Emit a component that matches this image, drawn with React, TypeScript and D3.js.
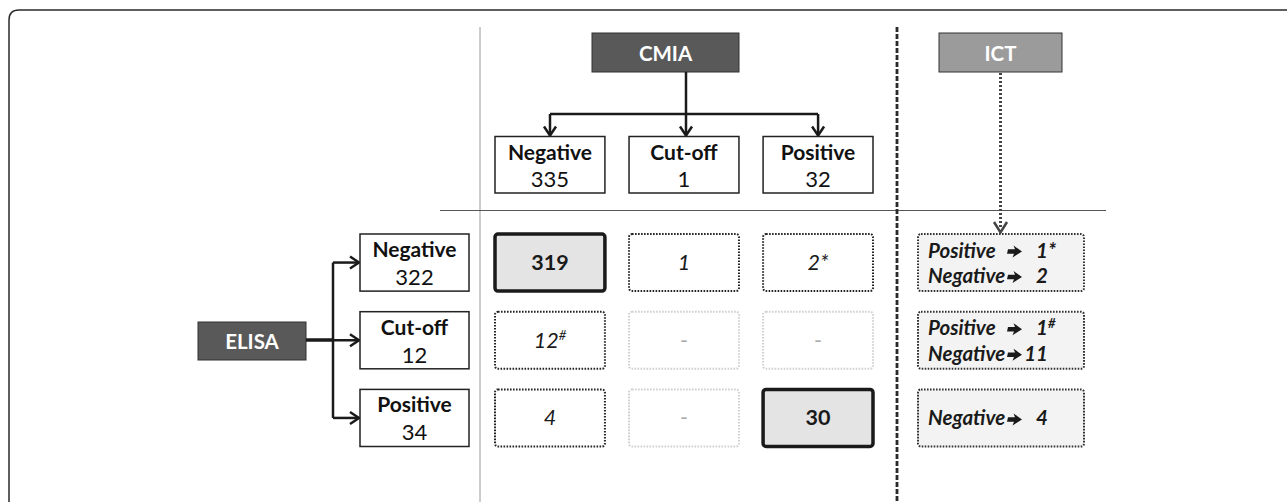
import React from 'react'
import { scaleBand } from 'd3'

// Data
const categories = ['Negative', 'Cut-off', 'Positive']
const elisaTotals = [322, 12, 34]
const cmiaTotals = [335, 1, 32]
// rows = ELISA result, cols = CMIA result
const crossCounts = [
    [319, 1, 2],
    [12, null, null],
    [4, null, 30],
]
const crossMarks = [
    ['', '', '*'],
    ['#', '', ''],
    ['', '', ''],
]
const ictLabels = [['Positive', 'Negative'], ['Positive', 'Negative'], ['Negative']]
const ictValues = [[1, 2], [1, 11], [4]]
const ictMarks = [['*', ''], ['#', ''], ['']]

const W = 1287
const H = 502
const FONT = 'Lato, "Open Sans", sans-serif'

const colX = scaleBand<string>().domain(categories).range([495, 873]).paddingInner(0.18)
const rowY = scaleBand<string>().domain(categories).range([234, 446.5]).paddingInner(0.265)

const elisaX = 360
const elisaW = 109
const cmiaY = 136.5
const cmiaH = 56.5
const ictX = 918
const ictW = 166

const Arrow = ({ x, y }: { x: number, y: number }) => (
    // heavy arrow glyph, left edge at x, middle at y
    <path
        d={`M${x},${y - 2.3} L${x + 7},${y - 2.3} L${x + 5.5},${y - 6} L${x + 14},${y} L${x + 4.5},${y + 6} L${x + 6},${y + 2.3} L${x - 1},${y + 2.3} Z`}
        fill="#1a1a1a"
    />
)

const App = () => {
    const bw = colX.bandwidth()
    const bh = rowY.bandwidth()
    const cmiaCx = 686
    return (
        <svg width={W} height={H} style={{ position: 'absolute', left: 0, top: 0, background: '#fff' }} fontFamily={FONT}>
            {/* frame */}
            <path d={`M9,${H + 5} L9,20 Q9,10 19,10 L${W + 5},10`} fill="none" stroke="#2a2a2a" strokeWidth={1.5} />

            {/* separators */}
            <line x1={480} x2={480} y1={27} y2={H} stroke="#9a9a9a" strokeWidth={1} />
            <line x1={440} x2={1106} y1={210.5} y2={210.5} stroke="#555" strokeWidth={1.2} />
            <line x1={897} x2={897} y1={27} y2={H} stroke="#2a2a2a" strokeWidth={2.8} strokeDasharray="5 2" />

            {/* ELISA */}
            <rect x={198} y={322} width={108} height={38} fill="#595959" stroke="#333" strokeWidth={1} />
            <text x={252} y={348.5} textAnchor="middle" fill="#fff" fontWeight="bold" fontSize={20.5}>ELISA</text>
            <line x1={306} x2={334} y1={340} y2={340} stroke="#1a1a1a" strokeWidth={3.5} />
            <line x1={333} x2={333} y1={rowY(categories[0])! + bh / 2} y2={rowY(categories[2])! + bh / 2} stroke="#1a1a1a" strokeWidth={2.5} />
            {categories.map((c) => {
                const cy = rowY(c)! + bh / 2
                return (
                    <g key={'ea' + c}>
                        <line x1={333} x2={elisaX - 1} y1={cy} y2={cy} stroke="#1a1a1a" strokeWidth={2.5} />
                        <path d={`M${elisaX - 10},${cy - 6} L${elisaX - 1},${cy} L${elisaX - 10},${cy + 6}`} fill="none" stroke="#1a1a1a" strokeWidth={2.5} />
                    </g>
                )
            })}
            {categories.map((c, i) => (
                <g key={'eb' + c}>
                    <rect x={elisaX} y={rowY(c)} width={elisaW} height={bh} fill="#fff" stroke="#222" strokeWidth={1.5} />
                    <text x={elisaX + elisaW / 2} y={rowY(c)! + 23} textAnchor="middle" fontWeight="bold" fontSize={21} fill="#111">{c}</text>
                    <text x={elisaX + elisaW / 2} y={rowY(c)! + 51} textAnchor="middle" fontSize={22} fill="#111">{elisaTotals[i]}</text>
                </g>
            ))}

            {/* CMIA */}
            <rect x={592} y={33} width={147} height={39} fill="#595959" stroke="#333" strokeWidth={1} />
            <text x={665.5} y={60.5} textAnchor="middle" fill="#fff" fontWeight="bold" fontSize={20.5}>CMIA</text>
            <line x1={cmiaCx} x2={cmiaCx} y1={72} y2={114} stroke="#1a1a1a" strokeWidth={2.5} />
            <line x1={colX(categories[0])! + 55} x2={colX(categories[2])! + 55} y1={114} y2={114} stroke="#1a1a1a" strokeWidth={2.5} />
            {categories.map((c, i) => {
                const cx = i === 1 ? cmiaCx : colX(c)! + 55
                return (
                    <g key={'ca' + c}>
                        <line x1={cx} x2={cx} y1={114} y2={cmiaY - 1} stroke="#1a1a1a" strokeWidth={2.5} />
                        <path d={`M${cx - 6},${cmiaY - 10} L${cx},${cmiaY - 1} L${cx + 6},${cmiaY - 10}`} fill="none" stroke="#1a1a1a" strokeWidth={2.5} />
                    </g>
                )
            })}
            {categories.map((c, i) => (
                <g key={'cb' + c}>
                    <rect x={colX(c)} y={cmiaY} width={bw} height={cmiaH} fill="#fff" stroke="#222" strokeWidth={1.5} />
                    <text x={colX(c)! + bw / 2} y={cmiaY + 23} textAnchor="middle" fontWeight="bold" fontSize={21} fill="#111">{c}</text>
                    <text x={colX(c)! + bw / 2} y={cmiaY + 50} textAnchor="middle" fontSize={22} fill="#111">{cmiaTotals[i]}</text>
                </g>
            ))}

            {/* cross table */}
            {crossCounts.map((row, r) => row.map((v, ci) => {
                const x = colX(categories[ci])!
                const y = rowY(categories[r])!
                const concordant = r === ci && v !== null
                const empty = v === null
                return (
                    <g key={'x' + r + ci}>
                        <rect
                            x={x} y={y} width={bw} height={bh} rx={3}
                            fill={concordant ? '#e4e4e4' : '#fff'}
                            stroke={concordant ? '#1a1a1a' : empty ? '#cfcfcf' : '#222'}
                            strokeWidth={concordant ? 3.5 : 2}
                            strokeDasharray={concordant ? undefined : '1.6 1.4'}
                        />
                        <text
                            x={x + bw / 2} y={y + bh / 2 + 7.5}
                            textAnchor="middle"
                            fontSize={21.5}
                            fontWeight={concordant ? 'bold' : 'normal'}
                            fontStyle={concordant || empty ? 'normal' : 'italic'}
                            fill={empty ? '#aaa' : '#1a1a1a'}
                        >
                            {empty ? '-' : v}
                            {crossMarks[r][ci] === '#'
                                ? <tspan fontSize={13} dy={-8}>#</tspan>
                                : crossMarks[r][ci]}
                        </text>
                    </g>
                )
            }))}

            {/* ICT */}
            <rect x={939} y={33} width={123} height={39} fill="#9b9b9b" stroke="#333" strokeWidth={1} />
            <text x={1000.5} y={60.5} textAnchor="middle" fill="#fff" fontWeight="bold" fontSize={20.5}>ICT</text>
            <line x1={1000.5} x2={1000.5} y1={73} y2={228} stroke="#444" strokeWidth={3} strokeDasharray="2 2" />
            <path d="M994,222 L1000.5,232.5 L1007,222" fill="none" stroke="#444" strokeWidth={2.5} />
            {ictLabels.map((lines, r) => {
                const y = rowY(categories[r])!
                const baselines = lines.length === 2 ? [y + 23.5, y + 49] : [y + bh / 2 + 7.5]
                return (
                    <g key={'i' + r}>
                        <rect x={ictX} y={y} width={ictW} height={bh} rx={3} fill="#f3f3f3" stroke="#333" strokeWidth={2} strokeDasharray="1.6 1.4" />
                        {lines.map((lab, k) => (
                            <g key={k}>
                                <text x={928} y={baselines[k]} fontWeight="bold" fontStyle="italic" fontSize={20.5} fill="#1a1a1a">{lab}</text>
                                <Arrow x={1008} y={baselines[k] - 6} />
                                <text x={1048} y={baselines[k]} textAnchor="end" fontWeight="bold" fontStyle="italic" fontSize={20.5} fill="#1a1a1a">{ictValues[r][k]}</text>
                                {ictMarks[r][k] && (
                                    <text x={1048} y={baselines[k] - (ictMarks[r][k] === '#' ? 7 : 0)} fontWeight="bold" fontStyle="italic" fontSize={ictMarks[r][k] === '#' ? 13 : 20.5} fill="#1a1a1a">{ictMarks[r][k]}</text>
                                )}
                            </g>
                        ))}
                    </g>
                )
            })}
        </svg>
    )
}

export default App
